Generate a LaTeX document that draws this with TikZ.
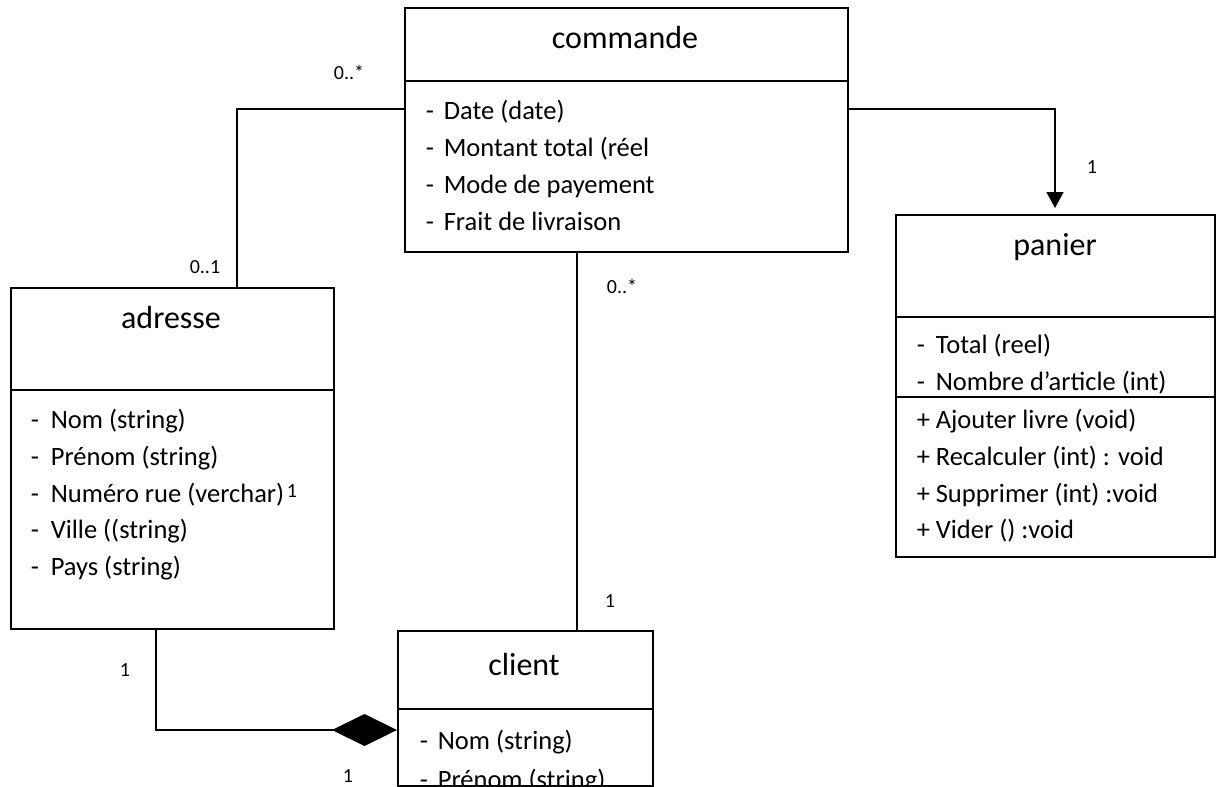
\documentclass[tikz,border=0pt]{standalone}
\usepackage{fontspec}
\setmainfont{Carlito}
\usetikzlibrary{arrows.meta}
\begin{document}
\begin{tikzpicture}[x=1pt,y=-1pt, line width=1.6pt,
  box/.style={draw, line width=1.6pt, rectangle, anchor=north west, inner sep=0pt},
  ctitle/.style={font=\fontsize{32}{38}\selectfont, anchor=base, inner sep=0pt},
  attr/.style={font=\fontsize{26.5}{31}\selectfont, anchor=base west, inner sep=0pt},
  mult/.style={font=\fontsize{20}{24}\selectfont, anchor=base, inner sep=0pt},
  conn/.style={line width=1.6pt}]
\useasboundingbox (0,0) rectangle (1218,787);

% ---------- commande ----------
\node[box, minimum width=443pt, minimum height=244pt] (commande) at (404,7) {};
\draw ([yshift=-74pt]commande.north west) -- ([yshift=-74pt]commande.north east);
\node[ctitle] (tcommande) at (625,48) {commande};
\node[attr] (c1d) at (425,119) {-}; \node[attr] (c1) at (443,119) {Date (date)};
\node[attr] (c2d) at (425,156) {-}; \node[attr] (c2) at (443,156) {Montant total (réel};
\node[attr] (c3d) at (425,193) {-}; \node[attr] (c3) at (443,193) {Mode de payement};
\node[attr] (c4d) at (425,230) {-}; \node[attr] (c4) at (443,230) {Frait de livraison};

% ---------- adresse ----------
\node[box, minimum width=323pt, minimum height=341pt] (adresse) at (10,287) {};
\draw ([yshift=-103pt]adresse.north west) -- ([yshift=-103pt]adresse.north east);
\node[ctitle] (tadresse) at (171,328) {adresse};
\node[attr] (a1d) at (30,428) {-}; \node[attr] (a1) at (50,428) {Nom (string)};
\node[attr] (a2d) at (30,465) {-}; \node[attr] (a2) at (50,465) {Prénom (string)};
\node[attr] (a3d) at (30,502) {-}; \node[attr] (a3) at (50,502) {Numéro rue (verchar)};
\node[attr] (a4d) at (30,538) {-}; \node[attr] (a4) at (50,538) {Ville ((string)};
\node[attr] (a5d) at (30,575) {-}; \node[attr] (a5) at (50,575) {Pays (string)};
\node[mult] (m1sup) at (292,497) {1};

% ---------- panier ----------
\node[box, minimum width=319pt, minimum height=342pt] (panier) at (895,214) {};
\draw ([yshift=-103pt]panier.north west) -- ([yshift=-103pt]panier.north east);
\draw ([yshift=-183pt]panier.north west) -- ([yshift=-183pt]panier.north east);
\node[ctitle] (tpanier) at (1055,255) {panier};
\node[attr] (p1d) at (916,353) {-}; \node[attr] (p1) at (935,353) {Total (reel)};
\node[attr] (p2d) at (916,390) {-}; \node[attr] (p2) at (935,390) {Nombre d’article (int)};
\node[attr] (p3d) at (916,428) {+}; \node[attr] (p3) at (935,428) {Ajouter livre (void)};
\node[attr] (p4d) at (916,465) {+}; \node[attr] (p4) at (935,465) {Recalculer (int) : void};
\node[attr] (p5d) at (916,502) {+}; \node[attr] (p5) at (935,502) {Supprimer (int) :void};
\node[attr] (p6d) at (916,538) {+}; \node[attr] (p6) at (935,538) {Vider () :void};

% ---------- client ----------
\node[box, minimum width=255pt, minimum height=155pt] (client) at (397,630) {};
\draw ([yshift=-79pt]client.north west) -- ([yshift=-79pt]client.north east);
\node[ctitle] (tclient) at (524,675) {client};
\begin{scope}
  \clip (client.north west) rectangle (client.south east);
  \node[attr] (k1d) at (419,749) {-}; \node[attr] (k1) at (437,749) {Nom (string)};
  \node[attr] (k2d) at (419,788) {-}; \node[attr] (k2) at (437,788) {Prénom (string)};
\end{scope}

% ---------- connectors ----------
\coordinate (ca) at (237,109);
\draw[conn] (commande.west |- ca) -- (ca) -- (ca |- adresse.north);

\coordinate (cp) at (1055,109);
\draw[conn, -{Triangle[width=17pt,length=16pt]}, shorten >=6pt]
  (commande.east |- cp) -- (cp) -- (cp |- panier.north);

\coordinate (ck) at (577,0);
\draw[conn] (commande.south -| ck) -- (client.north -| ck);

\coordinate (ac) at (156,730);
\draw[conn, -{Diamond[length=65pt,width=32pt]}]
  (adresse.south -| ac) -- (ac) -- (client.west |- ac);

% ---------- multiplicities ----------
\node[mult] (m0s1) at (349,79) {0..*};
\node[mult] (m01) at (205,273) {0..1};
\node[mult] (mp1) at (1092,173) {1};
\node[mult] (m0s2) at (622,293) {0..*};
\node[mult] (mk1) at (610,607) {1};
\node[mult] (ma1) at (125,676) {1};
\node[mult] (mk2) at (348,782) {1};
\end{tikzpicture}
\end{document}
